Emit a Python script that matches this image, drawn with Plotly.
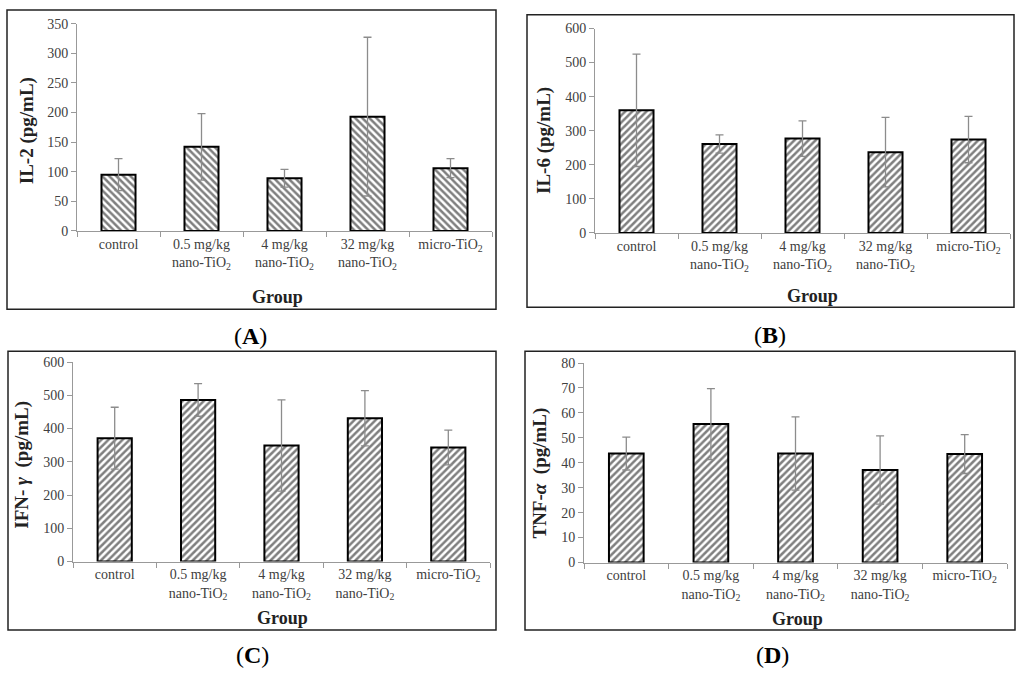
import plotly.graph_objects as go

categories = ["control", "0.5 mg/kg<br>nano-TiO<sub>2</sub>", "4 mg/kg<br>nano-TiO<sub>2</sub>",
              "32 mg/kg<br>nano-TiO<sub>2</sub>", "micro-TiO<sub>2</sub>"]

il2_mean = [95, 142, 89, 193, 106]
il2_err = [27, 56, 15, 134, 16]
il6_mean = [360, 261, 277, 237, 274]
il6_err = [165, 27, 52, 102, 68]
ifn_mean = [371, 486, 349, 431, 343]
ifn_err = [93, 49, 137, 83, 52]
tnf_mean = [43.7, 55.5, 43.7, 37.1, 43.5]
tnf_err = [6.6, 14.2, 14.7, 13.7, 7.8]

y_titles = ["IL-2 (pg/mL)", "IL-6 (pg/mL)", "IFN- <i>γ</i>  (pg/mL)", "TNF-<i>α</i>  (pg/mL)"]
y_ranges = [[0, 350], [0, 600], [0, 600], [0, 80]]
y_dticks = [50, 100, 100, 10]
panel_labels = ["(<b>A</b>)", "(<b>B</b>)", "(<b>C</b>)", "(<b>D</b>)"]
patterns = ["\\", "/", "/", "/"]

W, H = 1024, 683
def px(x):
    return x / W
def py(y):
    return 1 - y / H

areas = [(77, 492, 229, 17), (595, 1010, 231, 22), (73, 490, 567, 363), (584, 1007, 568, 364)]
frames = [(7, 3, 496, 309), (527, 8, 1014, 307), (8, 352, 496, 637), (525, 352, 1015, 637)]
ytitle_pos = [(27, 127), (544, 137), (22, 468), (540, 477)]
group_pos = [(277, 297), (812, 295), (282, 625), (797, 626)]
label_pos = [(250, 336), (770, 335), (252, 663), (772, 663)]

means = [il2_mean, il6_mean, ifn_mean, tnf_mean]
errs = [il2_err, il6_err, ifn_err, tnf_err]

fig = go.Figure()
font_family = "Liberation Serif"
layout = dict(
    width=W, height=H, margin=dict(l=0, r=0, t=0, b=0),
    paper_bgcolor="white", plot_bgcolor="white", showlegend=False,
    font=dict(family=font_family, color="#404040", size=14),
    bargap=0.59,
)
shapes = []
annotations = []
for i in range(4):
    xa = "x" if i == 0 else f"x{i+1}"
    ya = "y" if i == 0 else f"y{i+1}"
    fig.add_trace(go.Bar(
        x=categories, y=means[i], xaxis=xa, yaxis=ya,
        marker=dict(color="white", line=dict(color="black", width=2),
                    pattern=dict(shape=patterns[i], fgcolor="black", bgcolor="white", size=5, solidity=0.5)),
        error_y=dict(type="data", array=errs[i], visible=True, color="#8c8c8c", thickness=1.3, width=4),
        hoverinfo="skip",
    ))
    x0, x1, yz, yt = areas[i]
    xkey = "xaxis" if i == 0 else f"xaxis{i+1}"
    ykey = "yaxis" if i == 0 else f"yaxis{i+1}"
    layout[xkey] = dict(domain=[px(x0), px(x1)], anchor=ya, showline=True, linecolor="#999999",
                        linewidth=1, ticks="outside", tickson="boundaries", ticklen=5, tickcolor="#999999",
                        showgrid=False, tickfont=dict(size=14, color="#404040"), fixedrange=True)
    layout[ykey] = dict(domain=[py(yz), py(yt)], anchor=xa, range=y_ranges[i], dtick=y_dticks[i],
                        showline=True, linecolor="#999999", linewidth=1, ticks="outside", ticklen=5,
                        tickcolor="#999999", showgrid=False, zeroline=False, fixedrange=True,
                        tickfont=dict(size=14, color="#404040"))
    fx0, fy0, fx1, fy1 = frames[i]
    shapes.append(dict(type="rect", xref="paper", yref="paper", x0=px(fx0), x1=px(fx1),
                       y0=py(fy1), y1=py(fy0), line=dict(color="#222222", width=1.5)))
    tx, ty = ytitle_pos[i]
    annotations.append(dict(text=f"<b>{y_titles[i]}</b>", x=px(tx), y=py(ty), xref="paper", yref="paper",
                            xanchor="center", yanchor="middle",
                            showarrow=False, textangle=-90, font=dict(size=19, color="#222222", family=font_family)))
    gx, gy = group_pos[i]
    annotations.append(dict(text="<b>Group</b>", x=px(gx), y=py(gy), xref="paper", yref="paper",
                            xanchor="center", yanchor="middle",
                            showarrow=False, font=dict(size=18, color="#222222", family=font_family)))
    lx, ly = label_pos[i]
    annotations.append(dict(text=panel_labels[i], x=px(lx), y=py(ly), xref="paper", yref="paper",
                            xanchor="center", yanchor="middle",
                            showarrow=False, font=dict(size=24, color="black", family=font_family)))

layout["shapes"] = shapes
layout["annotations"] = annotations
fig.update_layout(**layout)
fig.write_html(
    "out.html", config={"displayModeBar": False},
    post_script=("document.documentElement.style.margin='0';document.documentElement.style.padding='0';"
                 "document.documentElement.style.overflow='hidden';"
                 "document.body.style.margin='0';document.body.style.padding='0';"
                 "document.body.style.overflow='hidden';"),
)
